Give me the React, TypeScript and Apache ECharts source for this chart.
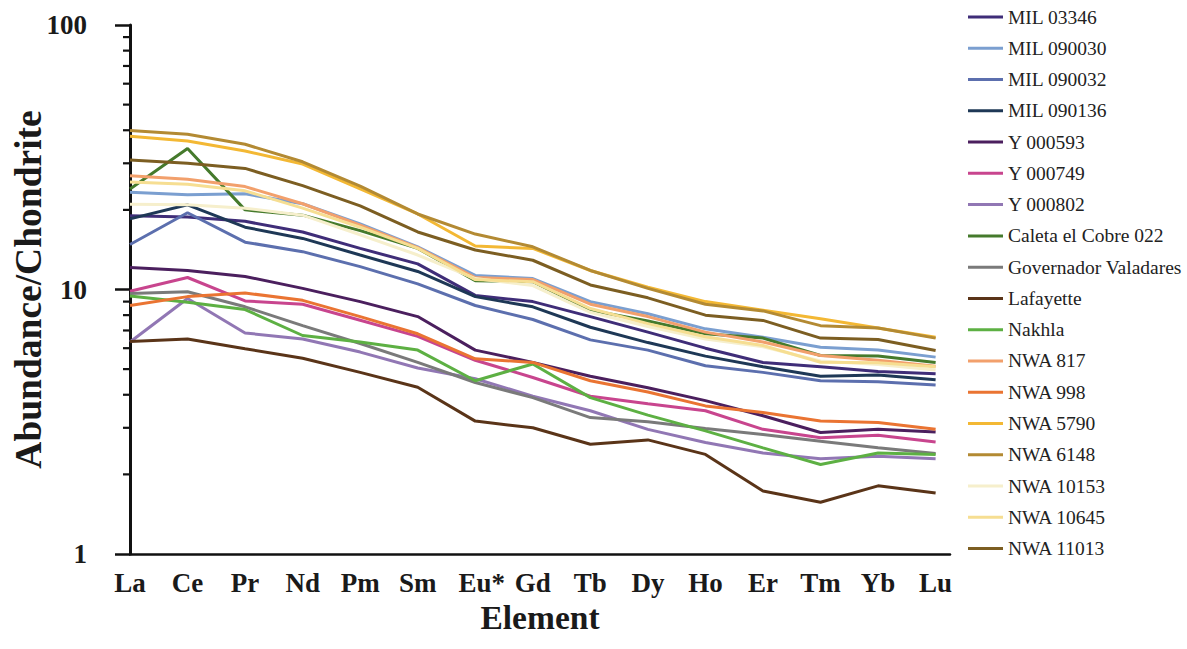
import React, { useEffect, useRef } from "react";
import * as echarts from "echarts";

const elements = ["La", "Ce", "Pr", "Nd", "Pm", "Sm", "Eu*", "Gd", "Tb", "Dy", "Ho", "Er", "Tm", "Yb", "Lu"];

const mil03346 = [19.0, 18.8, 18.1, 16.5, 14.3, 12.5, 9.5, 9.0, 7.9, 6.9, 6.0, 5.3, 5.1, 4.9, 4.8];
const mil090030 = [23.3, 22.8, 23.0, 21.1, 17.7, 14.5, 11.3, 11.0, 9.0, 8.1, 7.1, 6.6, 6.05, 5.9, 5.55];
const mil090032 = [14.8, 19.5, 15.1, 13.9, 12.2, 10.5, 8.7, 7.7, 6.45, 5.9, 5.15, 4.86, 4.52, 4.48, 4.35];
const mil090136 = [18.5, 20.9, 17.2, 15.6, 13.5, 11.7, 9.4, 8.6, 7.2, 6.3, 5.6, 5.1, 4.7, 4.75, 4.56];
const y000593 = [12.1, 11.8, 11.2, 10.1, 9.0, 7.9, 5.9, 5.3, 4.7, 4.25, 3.8, 3.33, 2.88, 2.96, 2.89];
const y000749 = [9.85, 11.1, 9.05, 8.8, 7.65, 6.65, 5.4, 4.65, 3.95, 3.7, 3.48, 2.96, 2.75, 2.81, 2.65];
const y000802 = [6.33, 9.25, 6.85, 6.5, 5.8, 5.05, 4.6, 3.95, 3.48, 2.96, 2.64, 2.41, 2.29, 2.34, 2.29];
const caletaElCobre022 = [24.0, 34.1, 20.0, 19.1, 16.7, 14.3, 10.8, 10.7, 8.35, 7.6, 6.8, 6.55, 5.63, 5.6, 5.3];
const governadorValadares = [9.65, 9.8, 8.6, 7.3, 6.25, 5.3, 4.45, 3.9, 3.28, 3.16, 2.98, 2.83, 2.67, 2.52, 2.4];
const lafayette = [6.36, 6.5, 5.97, 5.5, 4.86, 4.27, 3.18, 3.0, 2.6, 2.7, 2.38, 1.73, 1.57, 1.81, 1.7];
const nakhla = [9.45, 8.95, 8.4, 6.7, 6.33, 5.9, 4.52, 5.23, 3.9, 3.35, 2.92, 2.52, 2.18, 2.41, 2.38];
const nwa817 = [26.9, 26.1, 24.5, 21.1, 17.5, 14.4, 11.1, 10.9, 8.8, 7.9, 6.9, 6.33, 5.63, 5.4, 5.13];
const nwa998 = [8.7, 9.4, 9.7, 9.1, 7.9, 6.8, 5.47, 5.3, 4.52, 4.1, 3.63, 3.43, 3.18, 3.14, 2.96];
const nwa5790 = [38.0, 36.4, 33.4, 29.8, 24.0, 19.3, 14.6, 14.3, 11.8, 10.2, 9.0, 8.35, 7.75, 7.15, 6.6];
const nwa6148 = [39.9, 38.6, 35.4, 30.4, 24.6, 19.3, 16.2, 14.5, 11.8, 10.1, 8.8, 8.3, 7.3, 7.15, 6.55];
const nwa10153 = [21.0, 20.9, 20.3, 19.1, 16.1, 13.5, 11.0, 10.35, 8.2, 7.25, 6.5, 6.07, 5.37, 5.2, 4.96];
const nwa10645 = [25.5, 25.0, 23.6, 20.3, 17.2, 14.3, 10.9, 10.7, 8.47, 7.43, 6.63, 6.14, 5.31, 5.28, 5.1];
const nwa11013 = [30.9, 30.0, 28.7, 24.7, 20.7, 16.5, 14.1, 12.9, 10.4, 9.3, 8.0, 7.64, 6.55, 6.47, 5.88];

const seriesNames = [
  "MIL 03346", "MIL 090030", "MIL 090032", "MIL 090136", "Y 000593", "Y 000749", "Y 000802",
  "Caleta el Cobre 022", "Governador Valadares", "Lafayette", "Nakhla", "NWA 817", "NWA 998",
  "NWA 5790", "NWA 6148", "NWA 10153", "NWA 10645", "NWA 11013",
];
const seriesValues = [
  mil03346, mil090030, mil090032, mil090136, y000593, y000749, y000802,
  caletaElCobre022, governadorValadares, lafayette, nakhla, nwa817, nwa998,
  nwa5790, nwa6148, nwa10153, nwa10645, nwa11013,
];
const seriesColors = [
  "#3f2d78", "#7b9fd0", "#5c6fae", "#1e3856", "#4b1f5e", "#c8458e", "#9177b4",
  "#457a2c", "#7a7a7a", "#5a3418", "#5db043", "#f2a06c", "#ea7432",
  "#f3b834", "#b38a33", "#f6efcc", "#f6de92", "#7c5e22",
];

const minorTickValues = [2, 3, 4, 5, 6, 7, 8, 9, 20, 30, 40, 50, 60, 70, 80, 90];

const FONT = "'Liberation Serif', 'Times New Roman', serif";

export default function App() {
  const ref = useRef<HTMLDivElement>(null);
  useEffect(() => {
    document.body.style.margin = "0";
    if (!ref.current) return;
    const chart = echarts.init(ref.current, null, { renderer: "svg" });
    const lineSeries = seriesNames.map((name, i) => ({
      name,
      type: "line",
      data: seriesValues[i].map((v, j) => [j, v]),
      showSymbol: false,
      symbol: "none",
      color: seriesColors[i],
      lineStyle: { width: 3, color: seriesColors[i] },
      itemStyle: { color: seriesColors[i] },
      z: 2,
    }));
    const minorTicks = {
      type: "custom",
      silent: true,
      clip: false,
      z: 5,
      data: minorTickValues.map((v) => [0, v]),
      renderItem: (_params: any, api: any) => {
        const p = api.coord([0, api.value(1)]);
        return {
          type: "line",
          shape: { x1: p[0] - 7, y1: p[1], x2: p[0], y2: p[1] },
          style: { stroke: "#111", lineWidth: 2.2 },
        };
      },
    };
    chart.setOption({
      animation: false,
      backgroundColor: "#ffffff",
      textStyle: { fontFamily: FONT },
      grid: {
        left: 130,
        right: 237,
        top: 25,
        bottom: 95,
        containLabel: false,
        outerBoundsMode: "none",
      },
      legend: {
        data: seriesNames,
        orient: "vertical",
        left: 968,
        top: 7,
        padding: 0,
        itemWidth: 35,
        itemHeight: 3,
        itemGap: 11.27,
        icon: "rect",
        textStyle: { fontFamily: FONT, fontSize: 19.5, color: "#222", lineHeight: 20 },
      },
      xAxis: {
        type: "value",
        min: 0,
        max: 14.25,
        interval: 1,
        name: "Element",
        nameLocation: "middle",
        nameGap: 50,
        nameMoveOverlap: false,
        nameTextStyle: {
          fontFamily: FONT,
          fontSize: 33.5,
          lineHeight: 26,
          fontWeight: "bold",
          color: "#1a1a1a",
        },
        axisLine: { show: true, lineStyle: { color: "#111", width: 2.5 } },
        axisTick: { show: false },
        splitLine: { show: false },
        axisLabel: {
          margin: 18,
          fontFamily: FONT,
          fontSize: 27,
          lineHeight: 22,
          fontWeight: "bold",
          color: "#1a1a1a",
          showMaxLabel: false,
          formatter: (v: number) => {
            if (Math.abs(v - Math.round(v)) > 1e-6) return "";
            const s = elements[Math.round(v)] ?? "";
            return s === "Eu*" ? "{pad|}Eu*" : s;
          },
          rich: {
            pad: { width: 13 },
          },
        },
      },
      yAxis: {
        type: "log",
        logBase: 10,
        min: 1,
        max: 100,
        name: "Abundance/Chondrite",
        nameLocation: "middle",
        nameGap: 83,
        nameMoveOverlap: false,
        nameTextStyle: { fontFamily: FONT, fontSize: 37.5, fontWeight: "bold", color: "#1a1a1a" },
        axisLine: { show: true, lineStyle: { color: "#111", width: 3 } },
        axisTick: { show: true, length: 15, lineStyle: { color: "#111", width: 2.5 } },
        splitLine: { show: false },
        axisLabel: {
          margin: 43,
          fontFamily: FONT,
          fontSize: 27,
          fontWeight: "bold",
          color: "#1a1a1a",
        },
      },
      series: [...lineSeries, minorTicks],
    });
    return () => chart.dispose();
  }, []);
  return <div ref={ref} style={{ width: 1187, height: 649, background: "#fff" }} />;
}
